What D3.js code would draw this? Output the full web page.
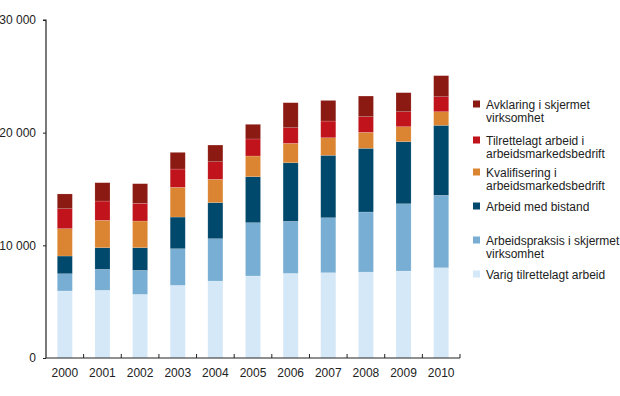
<!DOCTYPE html>
<html>
<head>
<meta charset="utf-8">
<script src="https://cdn.jsdelivr.net/npm/d3@7"></script>
<style>
  body { margin: 0; background: #fff; }
  text { font-family: "Liberation Sans", Arial, sans-serif; fill: #222; }
</style>
</head>
<body>
<div id="chart"></div>
<script>
// categories
const years = ["2000", "2001", "2002", "2003", "2004", "2005", "2006", "2007", "2008", "2009", "2010"];

// series values (stacked bottom to top)
const varig          = [5950, 6010, 5650, 6450, 6830, 7280, 7510, 7570, 7630, 7720, 8010];
const arbeidspraksis = [1530, 1860, 2130, 3250, 3760, 4730, 4620, 4880, 5330, 5970, 6430];
const bistand        = [1570, 1920, 2010, 2810, 3200, 4080, 5200, 5540, 5650, 5510, 6210];
const kvalifisering  = [2430, 2430, 2370, 2640, 2070, 1840, 1720, 1560, 1420, 1330, 1210];
const tilrettelagt   = [1770, 1710, 1570, 1620, 1560, 1510, 1390, 1480, 1390, 1330, 1330];
const avklaring      = [1310, 1630, 1740, 1480, 1480, 1300, 2220, 1830, 1830, 1690, 1870];

const yTicks = [0, 10000, 20000, 30000];

const series = [
    { key: "varig", label: ["Varig tilrettelagt arbeid"], values: varig, color: "#d5e8f8" },
    { key: "praksis", label: ["Arbeidspraksis i skjermet", "virksomhet"], values: arbeidspraksis, color: "#78aed3" },
    { key: "bistand", label: ["Arbeid med bistand"], values: bistand, color: "#00486c" },
    { key: "kval", label: ["Kvalifisering i", "arbeidsmarkedsbedrift"], values: kvalifisering, color: "#db8532" },
    { key: "tilr", label: ["Tilrettelagt arbeid i", "arbeidsmarkedsbedrift"], values: tilrettelagt, color: "#c0131b" },
    { key: "avkl", label: ["Avklaring i skjermet", "virksomhet"], values: avklaring, color: "#8b1a13" }
];

// build table for d3.stack
const table = years.map((y, i) => {
    const row = { year: y };
    series.forEach(s => { row[s.key] = s.values[i]; });
    return row;
});

const width = 620, height = 396;
const svg = d3.select("#chart").append("svg")
    .attr("width", width)
    .attr("height", height);

const x = d3.scaleBand()
    .domain(years)
    .range([46, 460])
    .paddingInner(0.6)
    .paddingOuter(0.3);

const y = d3.scaleLinear()
    .domain([0, 30000])
    .range([358, 20]);

const stacked = d3.stack().keys(series.map(s => s.key))(table);

// bars
svg.append("g").selectAll("g")
    .data(stacked)
    .join("g")
    .attr("fill", (d, i) => series[i].color)
    .selectAll("rect")
    .data(d => d)
    .join("rect")
    .attr("x", d => x(d.data.year))
    .attr("width", x.bandwidth())
    .attr("y", d => y(d[1]))
    .attr("height", d => y(d[0]) - y(d[1]))
    .attr("stroke", "#fff")
    .attr("stroke-opacity", 0.25)
    .attr("stroke-width", 0.6);

// y axis
const yAxis = d3.axisLeft(y)
    .tickValues(yTicks)
    .tickSize(3)
    .tickPadding(7)
    .tickFormat(d => d3.format(",")(d).replace(/,/g, "\u00a0"));

const gy = svg.append("g")
    .attr("transform", "translate(46,0)")
    .call(yAxis);
gy.select(".domain").attr("stroke", "#222").attr("stroke-width", 1.2)
    .attr("d", "M-3,20H0V358");
gy.selectAll(".tick line").attr("stroke", "#222");
gy.selectAll(".tick text").attr("font-size", 12).attr("fill", "#222")
    .style("font-family", "'Liberation Sans', Arial, sans-serif");

// x axis: baseline with ticks between categories
const bounds = d3.range(1, years.length + 1).map(i => 46 + i * (414 / years.length));
const gx = svg.append("g");
gx.append("line")
    .attr("x1", 46).attr("x2", 460)
    .attr("y1", y(0)).attr("y2", y(0))
    .attr("stroke", "#222").attr("stroke-width", 1.2);
gx.selectAll("line.tick")
    .data(bounds)
    .join("line")
    .attr("class", "tick")
    .attr("x1", d => d).attr("x2", d => d)
    .attr("y1", y(0)).attr("y2", y(0) - 4)
    .attr("stroke", "#222");
gx.selectAll("text")
    .data(years)
    .join("text")
    .attr("x", d => x(d) + x.bandwidth() / 2)
    .attr("y", 377)
    .attr("text-anchor", "middle")
    .attr("font-size", 12)
    .text(d => d);

// legend (top to bottom is reverse of stack)
const legendY = [104, 140, 172, 206, 240, 274];
const legend = svg.append("g");
series.slice().reverse().forEach((s, i) => {
    const ly = legendY[i];
    legend.append("rect")
        .attr("x", 473).attr("y", ly - 3.5)
        .attr("width", 7).attr("height", 7)
        .attr("fill", s.color);
    s.label.forEach((line, j) => {
        legend.append("text")
            .attr("x", 486)
            .attr("y", ly + 4.5 + j * 13.5)
            .attr("font-size", 12)
            .text(line);
    });
});
</script>
</body>
</html>
